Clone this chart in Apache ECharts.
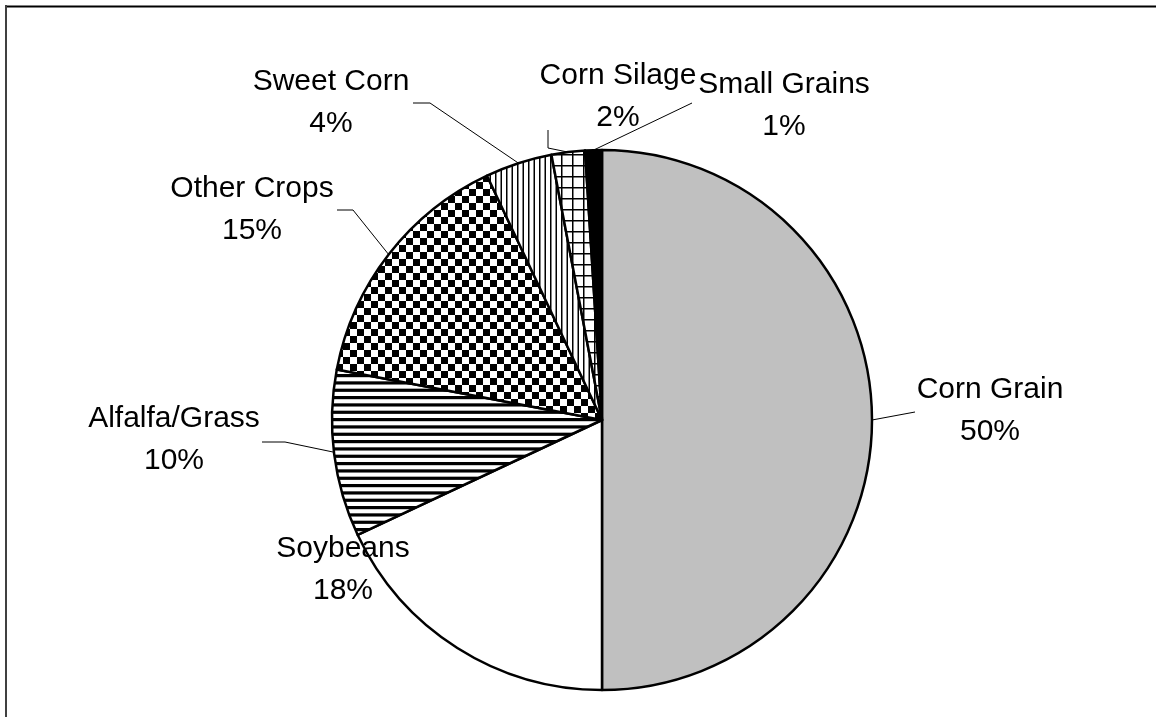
<!DOCTYPE html>
<html>
<head>
<meta charset="utf-8">
<script src="https://cdn.jsdelivr.net/npm/echarts@6/dist/echarts.min.js"></script>
<style>
html, body { margin: 0; padding: 0; background: #fff; }
#chart { width: 1156px; height: 717px; }
</style>
</head>
<body>
<div id="chart"></div>
<script>
const crops = ['Corn Grain', 'Soybeans', 'Alfalfa/Grass', 'Other Crops', 'Sweet Corn', 'Corn Silage', 'Small Grains'];
const shares = [50, 18, 10, 15, 4, 2, 1];

// label placement (block centre) and leader line points, label side first
const labelAt = [[990, 411], [343, 570], [174, 440], [252, 210], [331, 103], [618, 97], [784, 106]];
const leaderEnd = [
	[[915, 412]],
	[[410, 570]],
	[[262, 442], [285, 442]],
	[[337, 210], [353, 210]],
	[[413, 103], [430, 103]],
	[[548, 130], [548, 148]],
	[[692, 103]],
];
// where a leader meets the pie when it is not the slice middle
const leaderStart = [null, [458, 566], [333, 452], null, null, null, null];

const CX = 602, CY = 420, R = 270;

function makeTile(w, h, draw) {
	const c = document.createElement('canvas');
	c.width = w;
	c.height = h;
	const ctx = c.getContext('2d');
	ctx.fillStyle = '#fff';
	ctx.fillRect(0, 0, w, h);
	ctx.fillStyle = '#000';
	draw(ctx);
	return { image: c, repeat: 'repeat' };
}

const hStripes = makeTile(8, 22, (ctx) => {
	for (let i = 0; i < 3; i++) ctx.fillRect(0, i * 22 / 3, 8, 3.2);
});
const checker = makeTile(14, 14, (ctx) => {
	ctx.fillRect(0, 0, 7, 7);
	ctx.fillRect(7, 7, 7, 7);
});
const vStripes = makeTile(11, 8, (ctx) => {
	ctx.fillRect(0, 0, 1.5, 8);
	ctx.fillRect(5.5, 0, 1.5, 8);
});
const grid = makeTile(11, 11, (ctx) => {
	ctx.fillRect(0, 0, 11, 1.5);
	ctx.fillRect(0, 0, 1.5, 11);
});

const fills = ['#c0c0c0', '#ffffff', hStripes, checker, vStripes, grid, '#000000'];

const myChart = echarts.init(document.getElementById('chart'), null, { renderer: 'canvas' });

const option = {
	animation: false,
	graphic: [
		{ type: 'line', shape: { x1: 5, y1: 6.5, x2: 1156, y2: 6.5 }, style: { stroke: '#000', lineWidth: 2 } },
		{ type: 'line', shape: { x1: 6, y1: 5, x2: 6, y2: 717 }, style: { stroke: '#404040', lineWidth: 2 } },
	],
	series: [
		{
			type: 'pie',
			center: [CX, CY],
			radius: [0, R],
			startAngle: 90,
			clockwise: true,
			avoidLabelOverlap: false,
			emphasis: { disabled: true },
			itemStyle: { borderColor: '#000', borderWidth: 2.5, borderJoin: 'round' },
			label: {
				show: true,
				position: 'outside',
				formatter: '{b}\n{c}%',
				fontFamily: 'Liberation Sans, Arial, sans-serif',
				fontSize: 30,
				lineHeight: 42,
				color: '#000',
				align: 'center',
			},
			labelLine: {
				show: true,
				lineStyle: { color: '#000', width: 1 },
			},
			labelLayout: (params) => {
				const i = params.dataIndex;
				const start = leaderStart[i] || params.labelLinePoints[0];
				const pts = [start].concat(leaderEnd[i].slice().reverse());
				if (pts.length === 2) pts.splice(1, 0, pts[1]);
				return {
					x: labelAt[i][0],
					y: labelAt[i][1],
					align: 'center',
					verticalAlign: 'middle',
					hideOverlap: false,
					moveOverlap: false,
					labelLinePoints: pts,
				};
			},
			data: crops.map((name, i) => ({
				name: name,
				value: shares[i],
				itemStyle: { color: fills[i] },
			})),
		},
	],
};

myChart.setOption(option);
</script>
</body>
</html>
